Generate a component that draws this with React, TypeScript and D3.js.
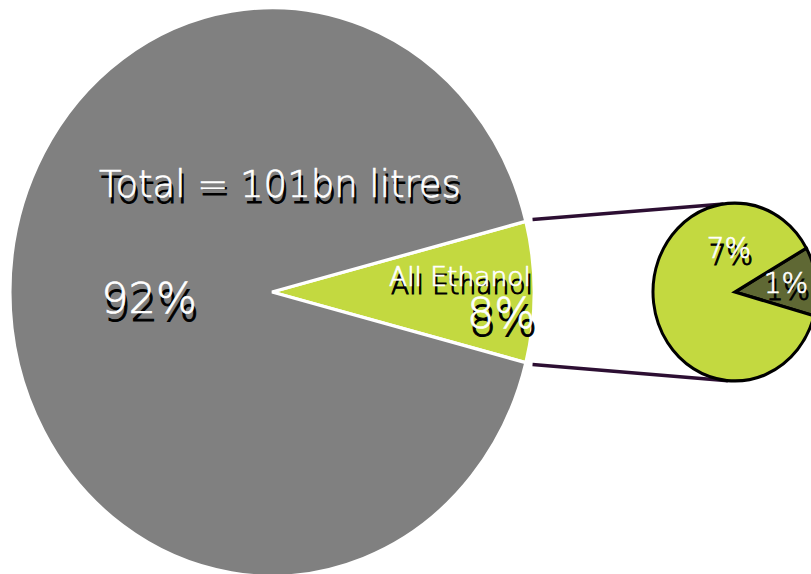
import React from "react";
import * as d3 from "d3";

// ---- data ----
const mainCategories = ["All Ethanol", "Other"];
const mainValues = [8, 92];
const mainLabels = ["8%", "92%"];
const subCategories = ["Other ethanol", "Ethanol 1%"];
const subValues = [7, 1];
const subLabels = ["7%", "1%"];
const title = "Total = 101bn litres";

// ---- layout / style ----
const W = 811;
const H = 574;
const K = 1.085; // vertical stretch of the whole drawing
const big = { cx: 272, cy: 292, r: 262 };
const small = { cx: 735, cy: 292, r: 82 };
const mainColors = ["#c3d940", "#808080"];
const subColors = ["#c3d940", "#5f6834"];
const connectorColor = "#2d0f33";
const FONT = "'DejaVu Sans', sans-serif";

function ShadowText({ x, y, size, children, anchor = "middle", dy = 6 }: any) {
  const common = {
    textAnchor: anchor,
    fontSize: size,
    fontFamily: FONT,
    fontWeight: 300,
  } as any;
  return (
    <g>
      <text x={x + 2} y={y + dy} fill="#000" stroke="#000" strokeWidth={1} {...common}>{children}</text>
      <text x={x} y={y} fill="#fff" stroke="#fff" strokeWidth={0.7} {...common}>{children}</text>
    </g>
  );
}

export default function App() {
  const deg = Math.PI / 180;
  const bigFrac = mainValues[0] / d3.sum(mainValues);
  const bigPie = d3
    .pie<number>()
    .sort(null)
    .value((d) => d)
    .startAngle(Math.PI / 2 - bigFrac * Math.PI)
    .endAngle(Math.PI / 2 - bigFrac * Math.PI + 2 * Math.PI);
  const bigArcs = bigPie(mainValues);
  const bigArc = d3.arc<any>().innerRadius(0).outerRadius(big.r);

  const subStart = 60.5 * deg;
  const smallPie = d3
    .pie<number>()
    .sort(null)
    .value((d) => d)
    .startAngle(subStart)
    .endAngle(subStart + 2 * Math.PI);
  const smallArcs = smallPie([subValues[1], subValues[0]]);
  const smallArc = d3.arc<any>().innerRadius(0).outerRadius(small.r);

  const pt = (c: any, a: number, rr = c.r) => [
    c.cx + rr * Math.sin(a),
    c.cy - rr * K * Math.cos(a),
  ];
  const g0 = bigArcs[0];
  const p1 = pt(big, g0.startAngle, big.r + 7);
  const p2 = pt(big, g0.endAngle, big.r + 7);
  const q1 = pt(small, -8 * deg);
  const q2 = pt(small, 185 * deg);

  return (
    <svg width={W} height={H} style={{ position: "absolute", left: 0, top: 0 }}>
      <rect width={W} height={H} fill="#fff" />
      <g transform={`translate(${big.cx},${big.cy}) scale(1,${K})`}>
        {bigArcs.map((a, i) => (
          <path
            key={mainCategories[i]}
            d={bigArc(a) as string}
            fill={mainColors[i]}
            stroke="#fff"
            strokeWidth={3}
            strokeLinejoin="miter"
          />
        ))}
      </g>
      <line x1={p1[0]} y1={p1[1]} x2={q1[0]} y2={q1[1]} stroke={connectorColor} strokeWidth={3.5} />
      <line x1={p2[0]} y1={p2[1]} x2={q2[0]} y2={q2[1]} stroke={connectorColor} strokeWidth={3.5} />
      <g transform={`translate(${small.cx},${small.cy}) scale(1,${K})`}>
        {smallArcs.map((a, i) => (
          <path
            key={subCategories[i]}
            d={smallArc(a) as string}
            fill={subColors[1 - i]}
            stroke="#000"
            strokeWidth={3}
            strokeLinejoin="miter"
          />
        ))}
      </g>
      <ShadowText x={280} y={197} size={37}>{title}</ShadowText>
      <ShadowText x={149} y={313} size={43} dy={8}>{mainLabels[1]}</ShadowText>
      <ShadowText x={460} y={286} size={26.5} dy={8}>{mainCategories[0]}</ShadowText>
      <ShadowText x={501} y={328} size={43} dy={8}>{mainLabels[0]}</ShadowText>
      <ShadowText x={729} y={258} size={28} dy={7}>{subLabels[0]}</ShadowText>
      <ShadowText x={786} y={293} size={28} dy={7}>{subLabels[1]}</ShadowText>
    </svg>
  );
}
